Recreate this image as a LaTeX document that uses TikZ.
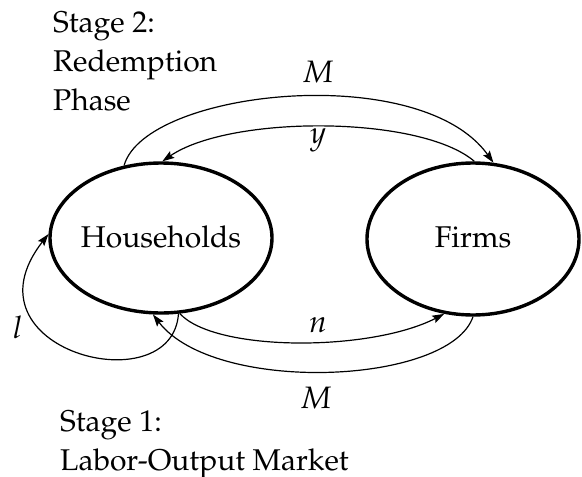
\documentclass[tikz,border=0pt]{standalone}
\usepackage[T1]{fontenc}
\usepackage{mathpazo}
\usetikzlibrary{shapes.geometric,arrows.meta}
\begin{document}
\begin{tikzpicture}[x=1pt,y=-1pt,
  agent/.style={draw,ellipse,line width=3.4pt,inner sep=0pt,
    minimum width=222pt,minimum height=150pt,font=\fontsize{30}{39}\selectfont},
  flow/.style={line width=1.2pt,-{Stealth[length=12pt,width=8pt,inset=2pt]}},
  lbl/.style={font=\fontsize{31}{39}\selectfont,inner sep=0pt},
  stage/.style={font=\fontsize{30}{39}\selectfont,align=left,anchor=base west,inner sep=0pt}]
\useasboundingbox (0,0) rectangle (582,477);

\node[agent] (H) at (161,238) {\makebox[0pt]{\raisebox{3pt}{Households}}};
\node[agent, minimum width=212pt, minimum height=152pt] (F) at (473,239) {\makebox[0pt]{\raisebox{3pt}{Firms}}};

% top arcs
\draw[flow] (H.117) .. controls (145,90) and (420,60) .. (F.75);
\draw[flow] (F.89) .. controls (420,115) and (230,115) .. (H.89);
% bottom arcs
\draw[flow] (H.284) .. controls (215,352) and (370,352) .. (F.249);
\draw[flow] (F.270) .. controls (450,385) and (215,395) .. (H.264);
% self loop
\draw[flow] (H.283) .. controls (172,405) and (-42,350) .. (H.178);

\node[lbl] (m1) at (318,72) {$M$};
\node[lbl] (y1) at (318,140) {$y$};
\node[lbl] (n1) at (318,325) {$n$};
\node[lbl] (m2) at (316,398) {$M$};
\node[lbl] (l1) at (18,327) {$l$};

\node[stage] (s2) at (53,110) {Stage 2:\\Redemption\\Phase};
\node[stage] (s1) at (60,470) {Stage 1:\\Labor-Output Market};
\end{tikzpicture}
\end{document}
